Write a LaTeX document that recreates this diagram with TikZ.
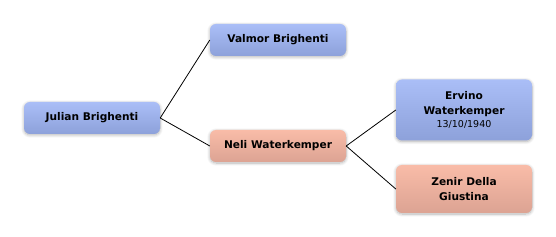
\documentclass[tikz,border=0pt]{standalone}
\usepackage{fontspec}
\setmainfont{DejaVu Sans}
\usetikzlibrary{shadows.blur}
\definecolor{bluetop}{HTML}{AABEF7}
\definecolor{bluebot}{HTML}{8DA1DA}
\definecolor{redtop}{HTML}{F9BCA8}
\definecolor{redbot}{HTML}{DCA393}
\tikzset{
  person/.style={rounded corners=6pt, minimum height=32pt, minimum width=136pt,
    align=center, inner sep=0pt, font=\fontsize{10.6}{15.5}\selectfont\bfseries,
    blur shadow={shadow blur steps=8, shadow xshift=0pt, shadow yshift=-1pt, shadow blur radius=3pt, shadow blur extra rounding=2pt, shadow opacity=30}},
  male/.style={person, top color=bluetop, bottom color=bluebot},
  female/.style={person, top color=redtop, bottom color=redbot},
  link/.style={black, line width=0.8pt}
}
\begin{document}
\begin{tikzpicture}[x=1pt,y=-1pt]
\useasboundingbox (0,0) rectangle (556,237);
\node[male] (julian) at (92,118) {Julian Brighenti};
\node[male] (valmor) at (278,40) {Valmor Brighenti};
\node[female] (neli) at (278,146) {Neli Waterkemper};
\node[male, minimum height=61pt] (ervino) at (464,110) {Ervino\\[-1pt]Waterkemper\\[-2pt]{\fontsize{9.5}{11}\selectfont\mdseries 13/10/1940}};
\node[female, minimum height=48pt] (zenir) at (464,189) {Zenir Della\\Giustina};
\draw[link] (julian.east) -- (valmor.west);
\draw[link] (julian.east) -- (neli.west);
\draw[link] (neli.east) -- (ervino.west);
\draw[link] (neli.east) -- (zenir.west);
\end{tikzpicture}
\end{document}
